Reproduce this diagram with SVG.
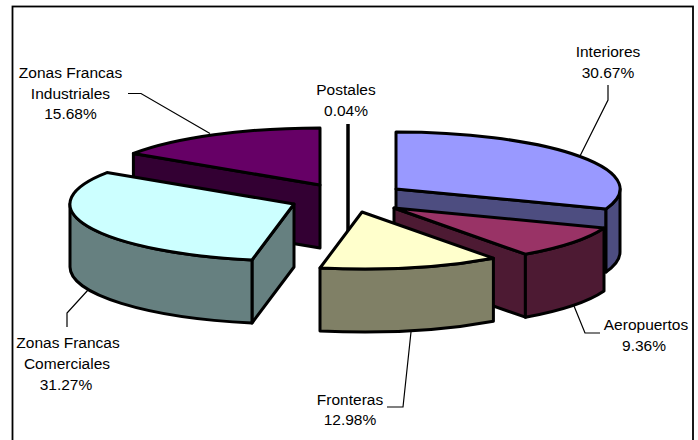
<svg xmlns="http://www.w3.org/2000/svg" width="698" height="440" viewBox="0 0 698 440">
<style>
.s{stroke:#000;stroke-width:3;stroke-linejoin:round}
.ld{fill:none;stroke:#000;stroke-width:1.2}
text{font-family:"Liberation Sans",Arial,sans-serif;font-size:15.5px;fill:#000;text-anchor:middle}
</style>
<rect x="0" y="0" width="698" height="440" fill="#fff"/>
<rect x="12.5" y="6.5" width="680.5" height="450" fill="none" stroke="#000" stroke-width="1.8"/>
<g id="connectors">
<polyline class="ld" points="128,93.5 141,93.5 210,133.5"/>
<polyline class="ld" points="608,85 608,100 580,156"/>
<polyline class="ld" points="574,306 585,333 600,333"/>
<polyline class="ld" points="411,332 403,407 387,407"/>
<polyline class="ld" points="88,290 67,313 67,327"/>
</g>
<g id="industriales">
<path class="s" fill="#330033" d="M320,185 L133.4,153.5 L133.4,216.5 L320,248 Z"/>
<path class="s" fill="#660066" d="M320,185 L133.4,153.5 A224,57 0 0 1 320,128 Z"/>
</g>
<g id="interiores">
<path class="s" fill="#4D4D80" d="M396,189 L606,208.9 L606,271.9 L396,252 Z"/>
<path class="s" fill="#4D4D80" d="M620,189 A224,57 0 0 1 606,208.9 L606,271.9 A224,57 0 0 0 620,252 Z"/>
<path class="s" fill="#9999FF" d="M396,189 L396,132 A224,57 0 0 1 606,208.9 Z"/>
</g>
<g id="postales">
<line x1="348" y1="124" x2="348" y2="240" stroke="#000" stroke-width="3.5"/>
</g>
<g id="comerciales">
<path class="s" fill="#668080" d="M294,204 L252,260 L252,323 L294,267 Z"/>
<path class="s" fill="#668080" d="M252,260 A224,57 0 0 1 70,204 L70,267 A224,57 0 0 0 252,323 Z"/>
<path class="s" fill="#CCFFFF" d="M294,204 L252,260 A224,57 0 0 1 107,172.6 Z"/>
</g>
<g id="aeropuertos">
<path class="s" fill="#4D1A33" d="M394,208 L525.4,254.2 L525.4,317.2 L394,271 Z"/>
<path class="s" fill="#4D1A33" d="M604,227.9 A224,57 0 0 1 525.4,254.2 L525.4,317.2 A224,57 0 0 0 604,290.9 Z"/>
<path class="s" fill="#993366" d="M394,208 L604,227.9 A224,57 0 0 1 525.4,254.2 Z"/>
</g>
<g id="fronteras">
<path class="s" fill="#808066" d="M493.4,258.2 A224,57 0 0 1 320,268 L320,331 A224,57 0 0 0 493.4,321.2 Z"/>
<path class="s" fill="#FFFFCC" d="M362,212 L493.4,258.2 A224,57 0 0 1 320,268 Z"/>
</g>
<g id="labels">
<text x="608" y="57">Interiores</text>
<text x="608" y="78">30.67%</text>
<text x="70.5" y="78">Zonas Francas</text>
<text x="70.5" y="99">Industriales</text>
<text x="70.5" y="119">15.68%</text>
<text x="346" y="95">Postales</text>
<text x="346" y="116">0.04%</text>
<text x="646" y="330">Aeropuertos</text>
<text x="644" y="351">9.36%</text>
<text x="350" y="404.5">Fronteras</text>
<text x="350" y="425">12.98%</text>
<text x="68" y="348">Zonas Francas</text>
<text x="67" y="369">Comerciales</text>
<text x="66" y="390">31.27%</text>
</g>
</svg>
